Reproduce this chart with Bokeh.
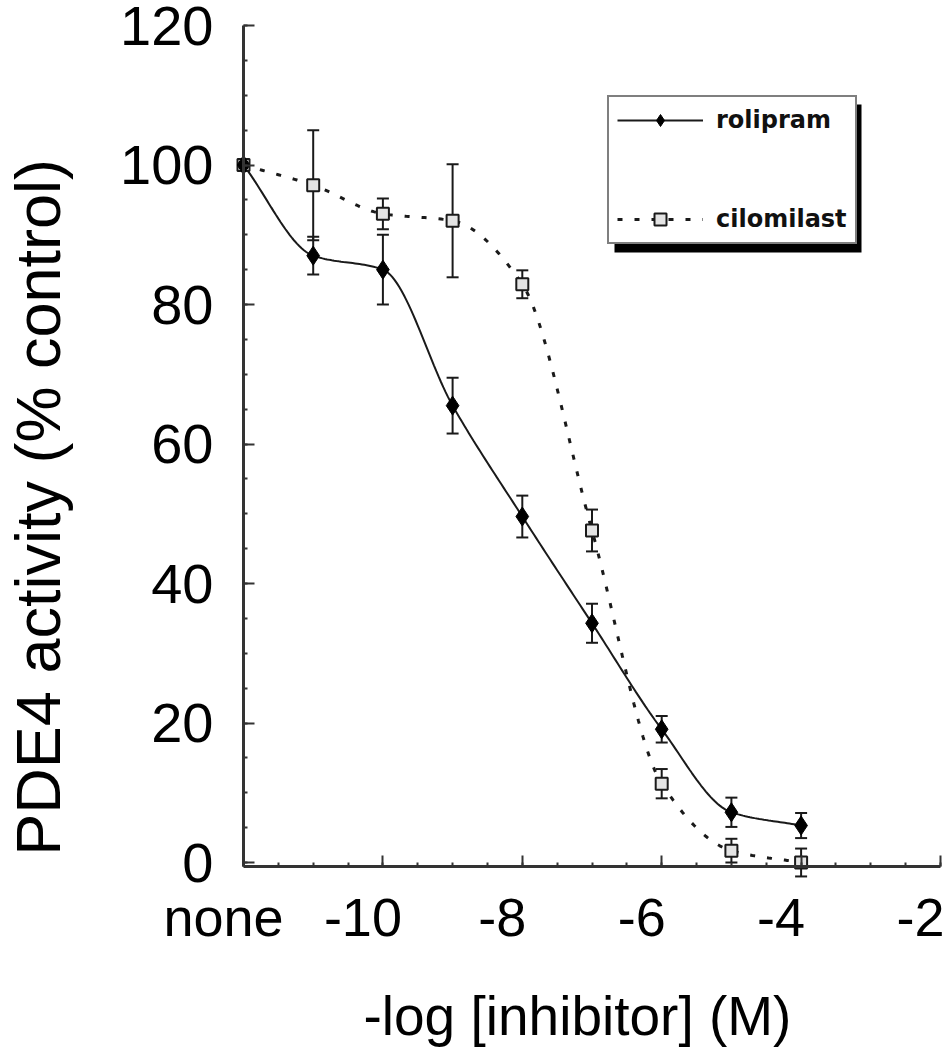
import numpy as np
from math import pi
from bokeh.plotting import figure
from bokeh.models import (ColumnDataSource, Whisker, TeeHead, Legend, LegendItem, Label,
                          LinearAxis, FixedTicker, SingleIntervalTicker, BoxAnnotation, Range1d)
from bokeh.embed import file_html
from bokeh.resources import INLINE

# ---------------- data ----------------
conc = [-12, -11, -10, -9, -8, -7, -6, -5, -4]          # -12 stands for "none"
rolipram = [100.0, 87.0, 85.0, 65.5, 49.6, 34.3, 19.1, 7.2, 5.3]
rolipram_err = [0.0, 2.7, 5.0, 4.0, 3.0, 2.8, 1.9, 2.1, 1.8]
cilomilast = [100.0, 97.1, 93.0, 92.0, 82.9, 47.6, 11.3, 1.7, 0.0]
cilomilast_err = [0.0, 7.9, 2.2, 8.1, 2.0, 3.0, 2.1, 1.7, 2.0]

x_tick_values = [-12, -10, -8, -6, -4, -2]
x_tick_labels = ["none", "-10", "-8", "-6", "-4", "-2"]
x_title = "-log [inhibitor] (M)"
y_title = "PDE4 activity (% control)"
series_names = ["rolipram", "cilomilast"]

# ---------------- layout (pixels) ----------------
W, H = 948, 1050
X_START, X_END = -12, -2          # x axis extent
Y_AXIS_AT, Y_TOP = -0.6, 120      # y axis extent (x axis drawn at Y_AXIS_AT)
PX_X0, PX_X1 = 243, 940           # canvas x of X_START / X_END
PX_Y0, PX_Y120 = 862, 25          # canvas y of value 0 / 120
LABEL_SHIFT_PX = -20              # tick texts sit slightly left of their ticks

kx = (PX_X1 - PX_X0) / (X_END - X_START)
ky = (PX_Y0 - PX_Y120) / 120.0
x_range = Range1d(X_START - PX_X0 / kx, X_END + (W - PX_X1) / kx)
y_range = Range1d(0 - (H - PX_Y0) / ky, 120 + PX_Y120 / ky)

INK = "#1a1a1a"
AXIS = "#333333"
FONT = "Liberation Sans"


def smooth(xs, ys, steps=30):
    """Monotone cubic (Fritsch-Carlson) rendering of the connecting line."""
    x = np.asarray(xs, float)
    y = np.asarray(ys, float)
    h = np.diff(x)
    d = np.diff(y) / h
    m = np.zeros_like(y)
    m[0], m[-1] = d[0], d[-1]
    for k in range(1, len(y) - 1):
        if d[k - 1] * d[k] <= 0:
            m[k] = 0.0
        else:
            w1 = 2 * h[k] + h[k - 1]
            w2 = h[k] + 2 * h[k - 1]
            m[k] = (w1 + w2) / (w1 / d[k - 1] + w2 / d[k])
    ox, oy = [], []
    t = np.linspace(0, 1, steps, endpoint=False)
    for k in range(len(x) - 1):
        h00 = 2 * t ** 3 - 3 * t ** 2 + 1
        h10 = t ** 3 - 2 * t ** 2 + t
        h01 = -2 * t ** 3 + 3 * t ** 2
        h11 = t ** 3 - t ** 2
        ox.extend(x[k] + t * h[k])
        oy.extend(h00 * y[k] + h10 * h[k] * m[k] + h01 * y[k + 1] + h11 * h[k] * m[k + 1])
    ox.append(x[-1])
    oy.append(y[-1])
    return ox, oy


p = figure(width=W, height=H, x_range=x_range, y_range=y_range,
           output_backend="svg", toolbar_location=None,
           x_axis_type=None, y_axis_type=None,
           min_border=0, min_border_left=0, min_border_right=0,
           min_border_top=0, min_border_bottom=0)
p.outline_line_color = None
p.grid.visible = False
p.background_fill_color = "white"
p.border_fill_color = "white"


def style_axis(ax):
    ax.axis_line_width = 3
    ax.axis_line_color = AXIS
    ax.major_tick_in = 11
    ax.major_tick_out = 0
    ax.minor_tick_in = 4
    ax.minor_tick_out = 0
    ax.major_tick_line_width = 2
    ax.minor_tick_line_width = 2
    ax.major_tick_line_color = AXIS
    ax.minor_tick_line_color = AXIS


xaxis = LinearAxis(ticker=SingleIntervalTicker(interval=2, num_minor_ticks=4),
                   bounds=(X_START, X_END), fixed_location=Y_AXIS_AT,
                   major_label_overrides={v: "" for v in x_tick_values},
                   major_label_text_font_size="1px", major_label_standoff=0)
style_axis(xaxis)
p.add_layout(xaxis, "below")

yaxis = LinearAxis(ticker=SingleIntervalTicker(interval=20, num_minor_ticks=4),
                   bounds=(Y_AXIS_AT, Y_TOP), fixed_location=X_START,
                   major_label_text_font=FONT, major_label_text_font_size="56px",
                   major_label_text_color="black", major_label_standoff=30)
style_axis(yaxis)
p.add_layout(yaxis, "left")

# label-only x axis carrying the tick texts (slightly left of the ticks)
label_pos = [v + LABEL_SHIFT_PX / kx for v in x_tick_values]
lab_axis = LinearAxis(ticker=FixedTicker(ticks=label_pos, minor_ticks=[]),
                      fixed_location=Y_AXIS_AT,
                      major_label_overrides={pos: txt for pos, txt in zip(label_pos, x_tick_labels)},
                      axis_line_color=None, major_tick_line_color=None,
                      minor_tick_line_color=None, major_tick_in=0, major_tick_out=0,
                      major_label_standoff=20,
                      major_label_text_font=FONT, major_label_text_font_size="54px",
                      major_label_text_color="black")
p.add_layout(lab_axis, "below")

# axis titles
p.add_layout(Label(x=X_START, y=Y_AXIS_AT, x_offset=120, y_offset=-149, text=x_title,
                   text_align="left", text_baseline="middle",
                   text_font=FONT, text_font_size="55px", text_color="black"))
p.add_layout(Label(x=X_START, y=Y_AXIS_AT, x_offset=-206, y_offset=11, text=y_title,
                   angle=pi / 2, text_align="left", text_baseline="middle",
                   text_font=FONT, text_font_size="63px", text_color="black"))

# ---------------- curves ----------------
rx, ry = smooth(conc, rolipram)
cx, cy = smooth(conc, cilomilast)
r_line = p.line(rx, ry, line_color=INK, line_width=2)
c_line = p.line(cx, cy, line_color=INK, line_width=3, line_dash="5 12")


def err_source(vals, errs):
    idx = [i for i, e in enumerate(errs) if e > 0]
    return ColumnDataSource(dict(x=[conc[i] for i in idx],
                                 upper=[vals[i] + errs[i] for i in idx],
                                 lower=[vals[i] - errs[i] for i in idx]))


for vals, errs in ((cilomilast, cilomilast_err), (rolipram, rolipram_err)):
    w = Whisker(source=err_source(vals, errs), base="x", upper="upper", lower="lower",
                dimension="height", line_width=2, line_color=INK,
                upper_head=TeeHead(size=12, line_width=2, line_color=INK),
                lower_head=TeeHead(size=12, line_width=2, line_color=INK))
    p.add_layout(w)

c_pts = p.scatter(conc, cilomilast, marker="square", size=12,
                  fill_color="#e4e4e4", line_color=INK, line_width=2)
r_pts = p.scatter(conc, rolipram, marker="diamond", size=19,
                  fill_color="black", line_color="black")

# ---------------- legend with shadow ----------------
LEG_LEFT, LEG_BOTTOM = 607, 244          # canvas px of legend's left / bottom edge
LEG_W, LEG_H = 248, 148
LEG_X, LEG_Y = LEG_LEFT, H - LEG_BOTTOM
shadow = BoxAnnotation(left=LEG_X + 7, right=LEG_X + LEG_W + 6,
                       bottom=LEG_Y - 8, top=LEG_Y + LEG_H - 8,
                       left_units="screen", right_units="screen",
                       bottom_units="screen", top_units="screen",
                       fill_color="black", fill_alpha=1.0, line_color=None)
p.add_layout(shadow)

legend = Legend(items=[LegendItem(label=series_names[0], renderers=[r_line, r_pts]),
                       LegendItem(label=series_names[1], renderers=[c_line, c_pts])],
                location=(LEG_X, LEG_Y), orientation="vertical",
                border_line_color="black", border_line_width=2,
                background_fill_color="white", background_fill_alpha=1.0,
                padding=8, spacing=69, margin=0,
                glyph_width=86, glyph_height=30, label_height=30, label_standoff=13,
                label_text_font="DejaVu Sans", label_text_font_size="24px",
                label_text_font_style="bold",
                label_text_color="#111111")
p.add_layout(legend)

open("out.html", "w").write(file_html(p, INLINE))
